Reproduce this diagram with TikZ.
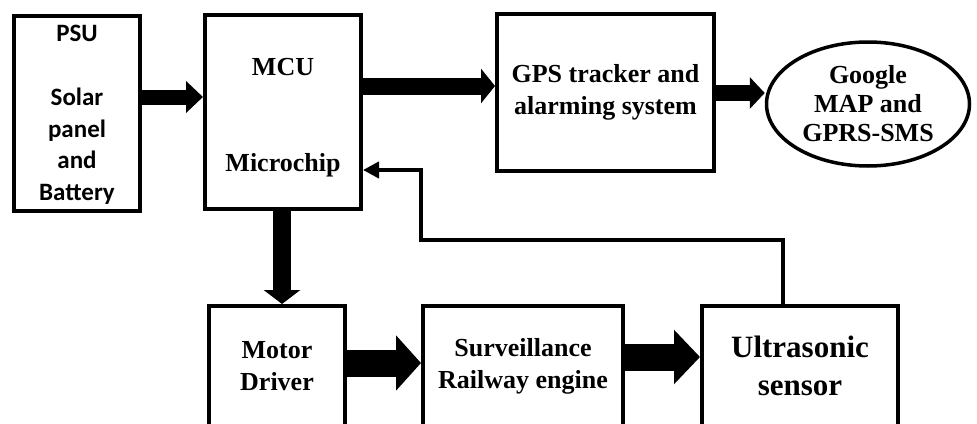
\documentclass[tikz,border=0pt]{standalone}
\usepackage{fontspec}
\setmainfont{Liberation Serif}
\newfontfamily\calibri{Carlito}
\usetikzlibrary{arrows.meta,shapes.geometric}
\begin{document}
\begin{tikzpicture}[x=1pt,y=-1pt,
  blk/.style={draw, line width=4pt, rectangle, inner sep=0pt, align=center,
    font=\bfseries\fontsize{26}{32}\selectfont},
  txt/.style={inner sep=0pt, align=center, font=\bfseries\fontsize{26}{32}\selectfont},
  fat/.style n args={3}{line width=#1, -{Triangle[length=#2,width=#3]}},
  fb/.style={line width=4.5pt, line join=miter, -{Triangle[length=16pt,width=16pt]}},
]
\useasboundingbox (0,0) rectangle (977,423);
\begin{scope}
\clip (0,0) rectangle (977,423);
\node[blk, minimum width=126, minimum height=195] (psu) at (77,113) {};
\node[txt, font=\calibri\bfseries\fontsize{25}{31.8}\selectfont] (psutxt) at (77,115)
  {PSU\\[31.8pt]Solar\\panel\\and\\Battery};
\node[blk, minimum width=156, minimum height=194] (mcu) at (283,112) {};
\node[txt] (mcutxt) at (283,118) {MCU\\[64pt]Microchip};
\node[blk, minimum width=217, minimum height=157] (gps) at (605.5,92.5)
  {GPS tracker and\\alarming system};
\node[draw, ellipse, line width=3.5pt, minimum width=203, minimum height=124,
  inner sep=0pt, align=center, font=\bfseries\fontsize{26}{29}\selectfont] (ell) at (868,104)
  {Google\\MAP and\\GPRS-SMS};
\node[blk, minimum width=136, minimum height=120] (motor) at (277,366)
  {Motor\\Driver};
\node[blk, minimum width=200, minimum height=120] (surv) at (523,366)
  {Surveillance\\Railway engine};
\node[blk, minimum width=196, minimum height=120,
  font=\bfseries\fontsize{31}{38}\selectfont] (ultra) at (800,366)
  {Ultrasonic\\sensor};

\coordinate (a1) at (0,97);
\coordinate (a2) at (0,86);
\coordinate (a3) at (0,93);
\coordinate (a4) at (282,0);
\coordinate (a5) at (0,363);
\coordinate (a6) at (0,357);
\coordinate (f1) at (783,240);
\coordinate (f2) at (421,170);

\draw[fat={15pt}{17pt}{31pt}] (psu.east |- a1) -- (mcu.west |- a1);
\draw[fat={17pt}{14pt}{34pt}] (mcu.east |- a2) -- (gps.west |- a2);
\draw[fat={16pt}{15pt}{31pt}] (gps.east |- a3) -- (ell.west |- a3);
\draw[fat={18pt}{14pt}{36pt}] (mcu.south -| a4) -- (motor.north -| a4);
\draw[fat={27pt}{25pt}{54pt}] (motor.east |- a5) -- (surv.west |- a5);
\draw[fat={27pt}{26pt}{53pt}] (surv.east |- a6) -- (ultra.west |- a6);
\draw[fb] (ultra.north -| f1) -- (f1) -- (f2 |- f1) -- (f2) -- (mcu.east |- f2);
\end{scope}
\end{tikzpicture}
\end{document}
